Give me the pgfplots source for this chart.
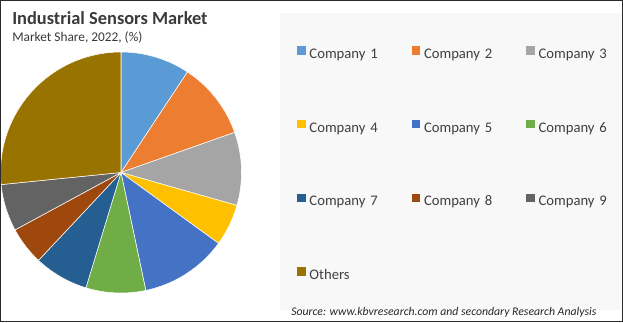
\documentclass[border=0pt]{standalone}
\usepackage{pgfplots}
\pgfplotsset{compat=1.18}
\usepackage{fontspec}
\setmainfont{Carlito}
\definecolor{c1}{HTML}{5B9BD5}
\definecolor{c2}{HTML}{ED7D31}
\definecolor{c3}{HTML}{A5A5A5}
\definecolor{c4}{HTML}{FFC000}
\definecolor{c5}{HTML}{4472C4}
\definecolor{c6}{HTML}{70AD47}
\definecolor{c7}{HTML}{255E91}
\definecolor{c8}{HTML}{9E480E}
\definecolor{c9}{HTML}{636363}
\definecolor{c10}{HTML}{997300}
\definecolor{panel}{HTML}{F8F8F8}
\definecolor{titlegray}{HTML}{3A3A3A}
\definecolor{legendgray}{HTML}{404040}
\definecolor{framec}{HTML}{2B2B2B}
% slice: colour, cumulative share before, share (percent)
\newcommand\slice[3]{\addplot[fill=#1, draw=white, line width=0.4pt, domain=90-3.6*(#2+#3):90-3.6*#2, samples=60, variable=\t] ({cos(\t)},{sin(\t)}) -- (0,0) -- cycle;}
\begin{document}
\begin{tikzpicture}
\begin{scope}[x=0.75pt,y=0.75pt]
\useasboundingbox (0,0) rectangle (623,322);
\fill[white] (0,0) rectangle (623,322);
\fill[panel] (280,12) rectangle (621,309);
\node[anchor=base west, inner sep=0, font=\fontsize{13.8}{16}\selectfont\bfseries, text=titlegray] at (12,297) {Industrial Sensors Market};
\node[anchor=base west, inner sep=0, font=\fontsize{10}{12}\selectfont, text=titlegray] at (12,280) {Market Share, 2022, (\%)};
\node[anchor=base west, inner sep=0, font=\fontsize{8.8}{11}\selectfont\itshape, text=black!85] at (291,7) {Source: www.kbvresearch.com and secondary Research Analysis};
\end{scope}
\begin{axis}[
  at={(90.75pt,112.125pt)}, anchor=center,
  width=180.75pt, height=180.75pt, scale only axis,
  xmin=-1, xmax=1, ymin=-1, ymax=1,
  hide axis, clip=false,
  legend columns=3,
  legend cell align=left,
  legend image code/.code={\path[#1, draw=none] (0pt,0pt) rectangle (6.4pt,6.2pt);},
  legend style={at={(1.230,1.024)}, anchor=north west, draw=none, fill=none,
    inner sep=0pt, row sep=44pt,
    font=\fontsize{11}{13}\selectfont, text=legendgray,
    nodes={inner sep=0pt, text width=60pt, text height=8pt, text depth=2pt, align=left},
    /tikz/every odd column/.style={column sep=2.8pt},
    /tikz/every even column/.style={column sep=16.7pt}},
]
\slice{c1}{0}{9.3}\addlegendentry{Company 1}
\slice{c2}{9.3}{10.3}\addlegendentry{Company 2}
\slice{c3}{19.6}{9.8}\addlegendentry{Company 3}
\slice{c4}{29.4}{5.6}\addlegendentry{Company 4}
\slice{c5}{35.0}{11.7}\addlegendentry{Company 5}
\slice{c6}{46.7}{8.0}\addlegendentry{Company 6}
\slice{c7}{54.7}{7.3}\addlegendentry{Company 7}
\slice{c8}{62.0}{5.1}\addlegendentry{Company 8}
\slice{c9}{67.1}{6.3}\addlegendentry{Company 9}
\slice{c10}{73.4}{26.6}\addlegendentry{Others}
\end{axis}
\begin{scope}[x=0.75pt,y=0.75pt]
\draw[framec, line width=1.1pt] (0.75,0.75) rectangle (622.25,321.25);
\end{scope}
\end{tikzpicture}
\end{document}
